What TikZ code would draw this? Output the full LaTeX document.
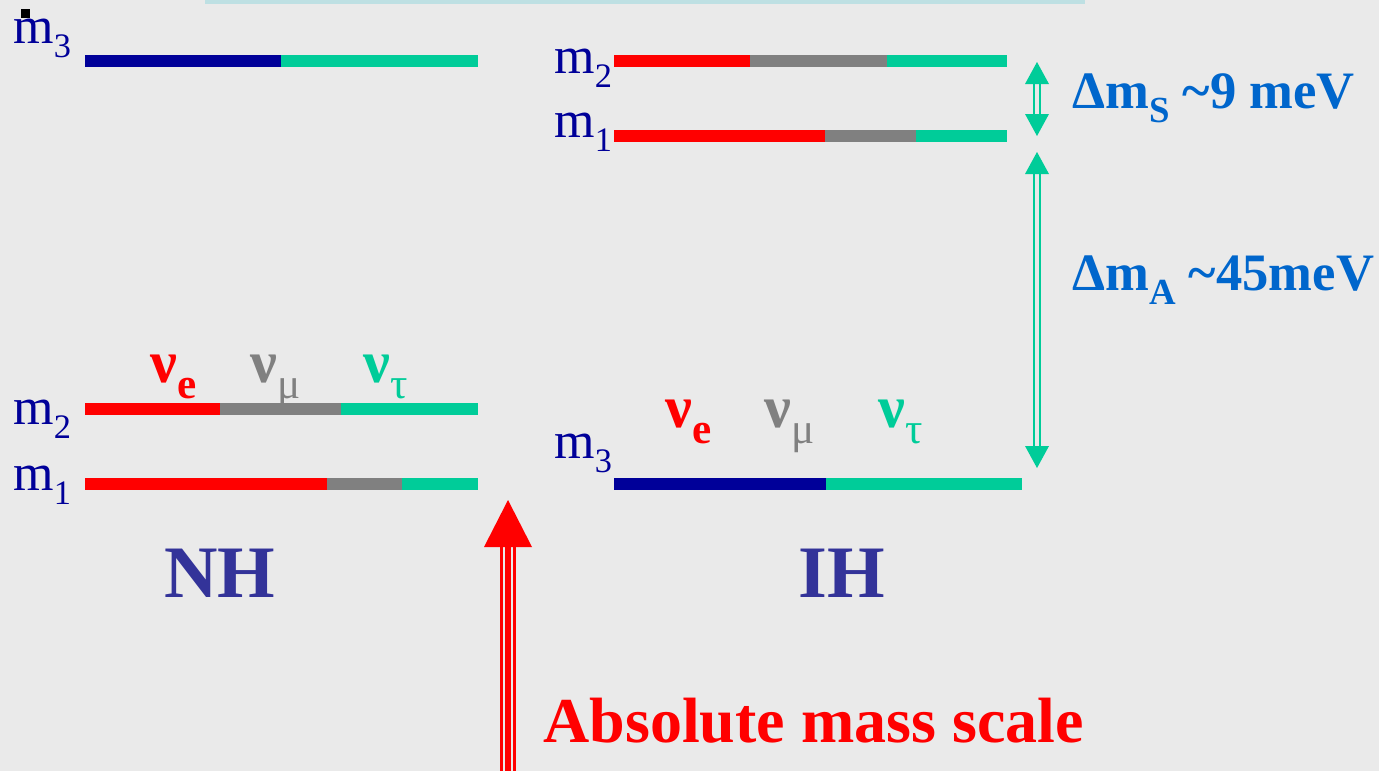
\documentclass[tikz,border=0pt]{standalone}
\usepackage{fontspec}
\setmainfont{Liberation Serif}
\definecolor{bgc}{HTML}{EAEAEA}
\definecolor{stripc}{HTML}{BEE0E3}
\definecolor{dblue}{HTML}{000099}
\definecolor{tealc}{HTML}{00CC99}
\definecolor{grayc}{HTML}{808080}
\definecolor{redc}{HTML}{FF0000}
\definecolor{labblue}{HTML}{0066CC}
\definecolor{hblue}{HTML}{333399}
\newcommand\lowsub[2][0.66]{\raisebox{-0.27em}{\scalebox{#1}{#2}}}
\begin{document}
\begin{tikzpicture}[x=0.5pt,y=-0.5pt,
  lab/.style={inner sep=0, anchor=base west},
  mlab/.style={lab, text=dblue, font=\fontsize{26}{30}\selectfont},
  nulab/.style={lab, font=\fontsize{30}{34}\selectfont},
  dlab/.style={lab, text=labblue, font=\bfseries\fontsize{26.3}{30}\selectfont},
  hlab/.style={inner sep=0, anchor=base, text=hblue, font=\bfseries\fontsize{37}{44}\selectfont},
  shaft/.style={draw=tealc, line width=1pt},
  headfill/.style={fill=tealc}]
\fill[bgc] (0,0) rectangle (1379,771);
\useasboundingbox (0,0) rectangle (1379,771);
\fill[stripc] (205,0) rectangle (1085,4);

% NH bars
\fill[dblue] (85,55) rectangle (281,67);
\fill[tealc] (281,55) rectangle (478,67);
\fill[redc] (85,403) rectangle (220,415);
\fill[grayc] (220,403) rectangle (341,415);
\fill[tealc] (341,403) rectangle (478,415);
\fill[redc] (85,478) rectangle (327,490);
\fill[grayc] (327,478) rectangle (402,490);
\fill[tealc] (402,478) rectangle (478,490);
% IH bars
\fill[redc] (614,55) rectangle (750,67);
\fill[grayc] (750,55) rectangle (887,67);
\fill[tealc] (887,55) rectangle (1007,67);
\fill[redc] (614,130) rectangle (825,142);
\fill[grayc] (825,130) rectangle (916,142);
\fill[tealc] (916,130) rectangle (1007,142);
\fill[dblue] (614,478) rectangle (826,490);
\fill[tealc] (826,478) rectangle (1022,490);

% mass labels
\node[mlab] (nh3) at (13,43) {m\lowsub{3}};
\fill[black] (21,9) rectangle (30,18);
\node[mlab] (nh2) at (13,424) {m\lowsub{2}};
\node[mlab] (nh1) at (13,490) {m\lowsub{1}};
\node[mlab] (ih2) at (554,73) {m\lowsub{2}};
\node[mlab] (ih1) at (554,137) {m\lowsub{1}};
\node[mlab] (ih3) at (554,458) {m\lowsub{3}};

% flavour labels
\node[nulab, text=redc] (nhe) at (150,382) {\textbf{ν}\lowsub[0.72]{\textbf{e}}};
\node[nulab, text=grayc] (nhm) at (250,382) {\textbf{ν}\lowsub[0.72]{μ}};
\node[nulab, text=tealc] (nht) at (363,382) {\textbf{ν}\lowsub[0.72]{τ}};
\node[nulab, text=redc] (ihe) at (665,427) {\textbf{ν}\lowsub[0.72]{\textbf{e}}};
\node[nulab, text=grayc] (ihm) at (764,427) {\textbf{ν}\lowsub[0.72]{μ}};
\node[nulab, text=tealc] (iht) at (878,427) {\textbf{ν}\lowsub[0.72]{τ}};

% splittings
\node[dlab] (dms) at (1072,108) {Δm\lowsub[0.7]{S} \textasciitilde 9 meV};
\node[dlab] (dma) at (1072,290) {Δm\lowsub[0.7]{A} \textasciitilde 45meV};

\coordinate (sT) at (1037,62);
\coordinate (sB) at (1037,136);
\coordinate (aT) at (1037,152);
\coordinate (aB) at (1037,468);
\foreach \t/\b in {sT/sB, aT/aB}{
  \fill[headfill] (\t) -- ([xshift=-6pt,yshift=-11pt]\t) -- ([xshift=6pt,yshift=-11pt]\t) -- cycle;
  \fill[headfill] (\b) -- ([xshift=-6pt,yshift=11pt]\b) -- ([xshift=6pt,yshift=11pt]\b) -- cycle;
  \draw[shaft] ([xshift=-1.5pt,yshift=-11pt]\t) -- ([xshift=-1.5pt,yshift=11pt]\b);
  \draw[shaft] ([xshift=1.5pt,yshift=-11pt]\t) -- ([xshift=1.5pt,yshift=11pt]\b);
}

% hierarchy names
\node[hlab] (nh) at (220,597) {NH};
\node[hlab] (ih) at (842,597) {IH};

% absolute mass scale arrow
\coordinate (rT) at (508,500);
\coordinate (rB) at (508,771);
\fill[redc] (rT) -- ([xshift=-12pt,yshift=-23.5pt]rT) -- ([xshift=12pt,yshift=-23.5pt]rT) -- cycle;
\draw[redc, line width=3pt] ([yshift=-23pt]rT) -- (rB);
\draw[redc, line width=1.5pt] ([xshift=-3.25pt,yshift=-23pt]rT) -- ([xshift=-3.25pt]rB);
\draw[redc, line width=1.5pt] ([xshift=3.25pt,yshift=-23pt]rT) -- ([xshift=3.25pt]rB);
\node[lab, text=redc, font=\bfseries\fontsize{32}{40}\selectfont] (abs) at (543,742) {Absolute mass scale};
\end{tikzpicture}
\end{document}
